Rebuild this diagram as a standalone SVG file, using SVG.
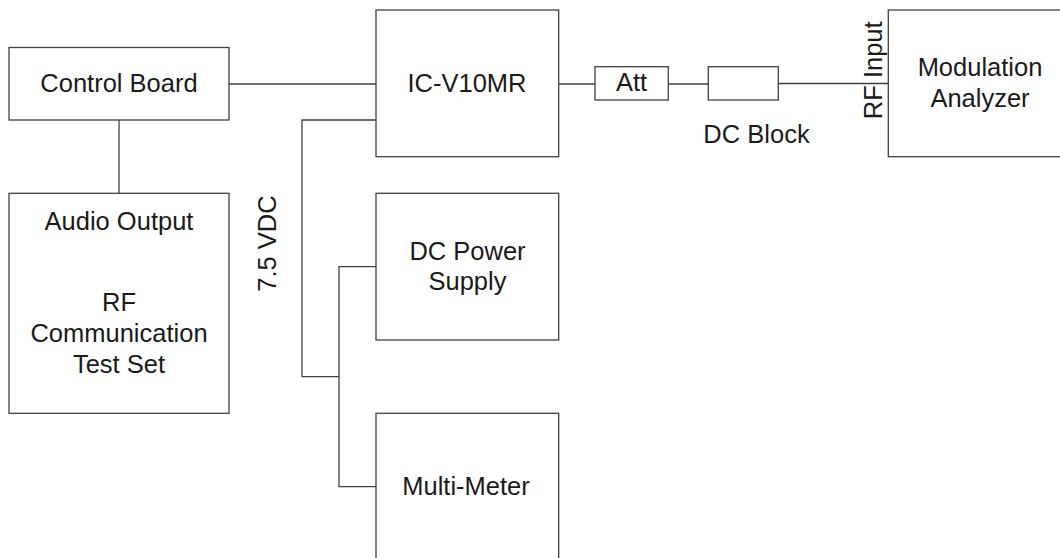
<svg xmlns="http://www.w3.org/2000/svg" width="1060" height="558" viewBox="0 0 1060 558">
<style>
.box{fill:#fff;stroke:#404040;stroke-width:1.3}
.wire{fill:none;stroke:#404040;stroke-width:1.3}
text{font-family:"Liberation Sans",Arial,sans-serif;font-size:25.5px;fill:#1a1a1a;text-anchor:middle}
</style>
<rect width="1060" height="558" fill="#fff"/>
<g id="connectors">
<path class="wire" d="M229,84H376"/>
<path class="wire" d="M119,120V193.3"/>
<path class="wire" d="M376,120H302V376.7H339"/>
<path class="wire" d="M376,266.7H339V486.7H376"/>
<path class="wire" d="M558.7,84H595"/>
<path class="wire" d="M668.3,84H708.3"/>
<path class="wire" d="M778.3,83.5H888.3"/>
</g>
<g id="control-board"><rect class="box" x="9" y="47.5" width="220" height="72.5"/><text x="119" y="92">Control Board</text></g>
<g id="test-set"><rect class="box" x="9" y="193.3" width="220" height="220"/>
<text x="119" y="230">Audio Output</text><text x="119" y="311">RF</text><text x="119" y="342">Communication</text><text x="119" y="373">Test Set</text></g>
<g id="radio"><rect class="box" x="376" y="10" width="182.7" height="146.7"/><text x="467" y="91.5">IC-V10MR</text></g>
<g id="vdc-label"><text transform="translate(276,243.5) rotate(-90)">7.5 VDC</text></g>
<g id="power-supply"><rect class="box" x="376" y="193.3" width="182.7" height="146.7"/><text x="467.5" y="259.5">DC Power</text><text x="467.5" y="290">Supply</text></g>
<g id="multimeter"><rect class="box" x="376" y="413.3" width="182.7" height="160"/><text x="466" y="495">Multi-Meter</text></g>
<g id="att"><rect class="box" x="595" y="66.7" width="73.3" height="33.3"/><text x="631.5" y="90.7">Att</text></g>
<g id="dc-block"><rect class="box" x="708.3" y="66.7" width="70" height="33.3"/><text x="756.5" y="143.3">DC Block</text></g>
<g id="analyzer"><rect class="box" x="888.3" y="10" width="180" height="146.7"/><text x="980" y="76">Modulation</text><text x="980" y="106.7">Analyzer</text>
<text transform="translate(881.5,70.3) rotate(-90)">RF Input</text></g>
</svg>
